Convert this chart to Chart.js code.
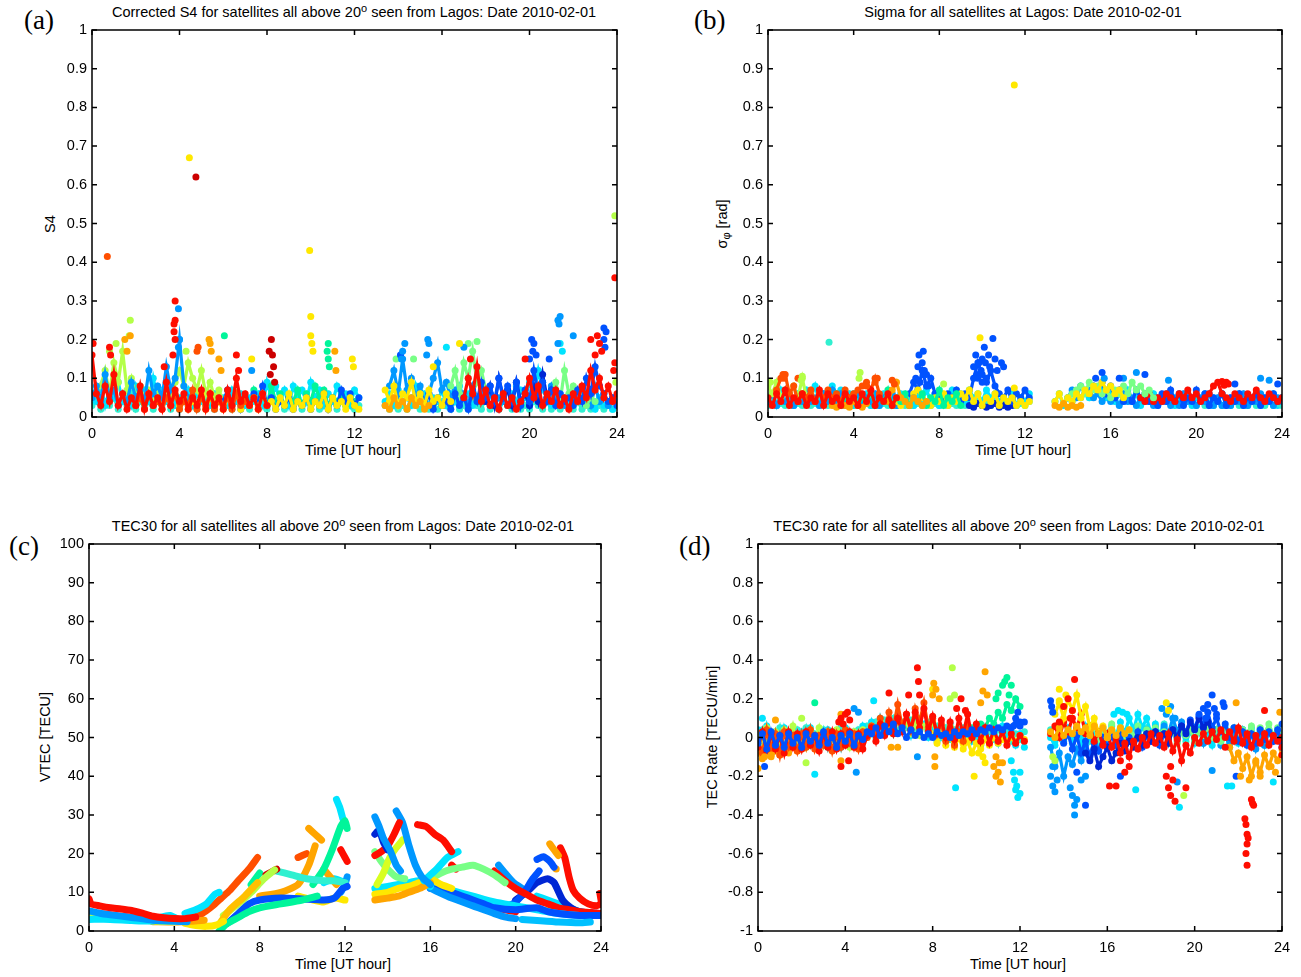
<!DOCTYPE html>
<html>
<head>
<meta charset="utf-8">
<script src="https://cdn.jsdelivr.net/npm/chart.js@4.4.1/dist/chart.umd.min.js"></script>
<style>
  body { margin: 0; background: #fff; width: 1301px; height: 977px; position: relative; overflow: hidden;
         font-family: "Liberation Sans", Arial, sans-serif; color: #000; }
  canvas { position: absolute; }
  .ttl { position: absolute; font-size: 14.5px; line-height: 16px; white-space: nowrap; transform: translateX(-50%); }
  .ttl sup { font-size: 11px; vertical-align: 5px; line-height: 0; }
  .xl { position: absolute; font-size: 14.5px; line-height: 16px; white-space: nowrap; transform: translateX(-50%); }
  .yl { position: absolute; font-size: 14.5px; line-height: 16px; white-space: nowrap; transform: translate(-50%, -50%) rotate(-90deg); }
  .yl sub { font-size: 11px; }
  .tag { position: absolute; font-family: "Liberation Serif", "Times New Roman", serif; font-size: 27px; line-height: 30px; }
</style>
</head>
<body>

<div class="tag" style="left:24px;top:5px">(a)</div>
<div class="tag" style="left:694px;top:5px">(b)</div>
<div class="tag" style="left:9px;top:531px">(c)</div>
<div class="tag" style="left:679px;top:531px">(d)</div>

<div class="ttl" style="left:354px;top:4px">Corrected S4 for satellites all above 20<sup>o</sup> seen from Lagos: Date 2010-02-01</div>
<div class="ttl" style="left:1023px;top:4px">Sigma for all satellites at Lagos: Date 2010-02-01</div>
<div class="ttl" style="left:343px;top:518px">TEC30 for all satellites all above 20<sup>o</sup> seen from Lagos: Date 2010-02-01</div>
<div class="ttl" style="left:1019px;top:518px">TEC30 rate for all satellites all above 20<sup>o</sup> seen from Lagos: Date 2010-02-01</div>

<div class="xl" style="left:353px;top:442px">Time [UT hour]</div>
<div class="xl" style="left:1023px;top:442px">Time [UT hour]</div>
<div class="xl" style="left:343px;top:956px">Time [UT hour]</div>
<div class="xl" style="left:1018px;top:956px">Time [UT hour]</div>

<div class="yl" style="left:50px;top:224px">S4</div>
<div class="yl" style="left:724px;top:224px">σ<sub>φ</sub> [rad]</div>
<div class="yl" style="left:45px;top:737px">VTEC [TECU]</div>
<div class="yl" style="left:712px;top:737px">TEC Rate [TECU/min]</div>

<canvas id="chartA" width="590" height="428" style="left:47px;top:14px"></canvas>
<canvas id="chartB" width="579" height="428" style="left:723px;top:14px"></canvas>
<canvas id="chartC" width="577" height="428" style="left:44px;top:528px"></canvas>
<canvas id="chartD" width="589" height="428" style="left:713px;top:528px"></canvas>

<script>
// -----------------------------
// TIME GRID (UT hour, 12 min steps)
// -----------------------------
const hours = [0,0.2,0.4,0.6,0.8,1,1.2,1.4,1.6,1.8,2,2.2,2.4,2.6,2.8,3,3.2,3.4,3.6,3.8,4,4.2,4.4,4.6,4.8,
  5,5.2,5.4,5.6,5.8,6,6.2,6.4,6.6,6.8,7,7.2,7.4,7.6,7.8,8,8.2,8.4,8.6,8.8,9,9.2,9.4,9.6,9.8,
  10,10.2,10.4,10.6,10.8,11,11.2,11.4,11.6,11.8,12,12.2,12.4,12.6,12.8,13,13.2,13.4,13.6,13.8,
  14,14.2,14.4,14.6,14.8,15,15.2,15.4,15.6,15.8,16,16.2,16.4,16.6,16.8,17,17.2,17.4,17.6,17.8,
  18,18.2,18.4,18.6,18.8,19,19.2,19.4,19.6,19.8,20,20.2,20.4,20.6,20.8,21,21.2,21.4,21.6,21.8,
  22,22.2,22.4,22.6,22.8,23,23.2,23.4,23.6,23.8,24];

// -----------------------------
// PANEL (a) : S4
// -----------------------------
const s4RedAm = [0.16,0.06,0.03,0.08,0.04,0.11,0.03,0.06,0.02,0.05,0.03,0.08,0.02,0.06,0.03,0.05,0.02,0.09,0.03,0.07,
  0.04,0.06,0.02,0.05,0.03,0.07,0.02,0.06,0.03,0.05,0.02,0.07,0.03,0.1,0.04,0.06,0.03,0.05,0.02,0.06,0.03];
const s4OrangeRedAm = [0.03,0.05,0.02,0.06,0.03,0.04,0.02,0.05,0.03,0.06,0.02,0.04,0.03,0.07,0.02,0.05,0.03,0.06,0.02,0.04,
  0.03,0.05,0.02,0.06,0.03,0.04];
const s4CyanAm = [0.06,0.04,0.08,0.03,0.07,0.05,0.09,0.04,0.06,0.03,0.08,0.05,0.07,0.04,0.1,0.05,0.07,0.04,0.06,0.03,
  0.05,0.04,0.07,0.03,0.06,0.04,0.05,0.03,0.06,0.04,0.05,0.03,0.07,0.04,0.06,0.03,0.05,0.04,0.06,0.03,
  0.09,0.05,0.08,0.04,0.07,0.03,0.08,0.05,0.07,0.04,0.09,0.05,0.07,0.03,0.06,0.04,0.08,0.05,0.06,0.03,0.07,0.05];
const s4LimeAm = [0.08,0.12,0.06,0.14,0.09,0.17,0.07,0.1,0.05,0.08,0.04,0.07,0.05,0.06,0.04,0.07,0.05,0.09,0.12,0.08,
  0.14,0.1,0.07,0.12,0.06,0.09,0.05,0.07,0.04];
const s4BlueAm = [0.04,0.07,0.03,0.06,0.02,0.05,0.03,0.06,0.04,0.08,0.03,0.05,0.02,0.04,0.03,0.05,0.02,0.04,0.03,0.05,
  0.02,0.04,0.03,0.06,0.02,0.05,0.03,0.07,0.04,0.06,0.03,0.05];
const s4SpringAm = [0.05,0.03,0.07,0.04,0.06,0.03,0.08,0.04,0.06,0.03,0.05,0.04,0.07,0.03,0.06,0.04,0.08,0.05,0.07,0.03,
  0.05,0.04,0.06,0.03,0.05,0.04];
const s4YellowAm = [0.03,0.05,0.02,0.04,0.03,0.06,0.02,0.05,0.03,0.04,0.02,0.05,0.03,0.06,0.02,0.04,0.03,0.05,0.02,0.06,
  0.03,0.04,0.02,0.05,0.03,0.06,0.02,0.04,0.03,0.05,0.02,0.04,0.03,0.06,0.02,0.05,0.03,0.04,0.02,0.05,0.03,0.02];
const s4SkyAm = [0.05,0.08,0.04,0.11,0.05,0.07,0.03,0.06,0.04,0.09,0.05,0.07,0.04,0.12,0.06,0.08,0.05,0.13,0.07,0.1,
  0.2,0.08,0.05];
const s4AquaAm = [0.03,0.05,0.02,0.04,0.03,0.05,0.02,0.04,0.03,0.06,0.02,0.04,0.03,0.05,0.02,0.04,0.03,0.05,0.02,0.04,
  0.02,0.05,0.03,0.04,0.02,0.05,0.03,0.04,0.02,0.05,0.03,0.04,0.02,0.05,0.03,0.04,0.02,0.05,0.03,0.04,
  0.02,0.04,0.03,0.05,0.02,0.04,0.03,0.05,0.02,0.04,0.03,0.05,0.02,0.04,0.03,0.05,0.02,0.04,0.03,0.05,0.02,0.03];

const s4YellowPm = [0.07,0.04,0.08,0.03,0.06,0.05,0.09,0.04,0.06,0.03,0.07,0.04,0.05,0.03,0.06,0.04];
const s4OrangePm = [0.03,0.02,0.05,0.03,0.04,0.02,0.05,0.03,0.04,0.02,0.03];
const s4CyanPm = [0.04,0.06,0.03,0.07,0.04,0.05,0.03,0.08,0.04,0.06,0.03,0.05,0.04,0.07,0.03,0.06,0.04,0.08,0.05,0.06,
  0.03,0.05,0.04,0.06,0.03,0.05,0.02,0.04,0.03,0.06,0.04,0.07,0.05,0.09,0.06,0.12,0.07,0.05,0.03,0.06,
  0.04,0.05,0.03,0.06,0.04,0.05,0.03,0.04,0.02,0.05,0.03,0.04,0.02,0.03];
const s4BluePm = [0.05,0.03,0.06,0.02,0.05,0.03,0.04,0.02,0.06,0.03,0.05,0.02,0.07,0.04,0.09,0.05,0.08,0.04,0.1,0.05,
  0.08,0.04,0.09,0.03,0.07,0.04,0.12,0.06,0.09,0.04,0.07,0.03,0.06,0.04,0.05,0.03,0.07,0.04,0.1,0.06,
  0.13,0.08,0.06,0.04,0.05,0.03];
const s4SkyPm = [0.08,0.12,0.06,0.15,0.07,0.1,0.05,0.08,0.04,0.06,0.1,0.14,0.07,0.09,0.05,0.07,0.04,0.06,0.03,0.08,
  0.05,0.07,0.04,0.06,0.03,0.05,0.04,0.07,0.05,0.08,0.04,0.06,0.03,0.07,0.04,0.09,0.05,0.08,0.04,0.06,
  0.03,0.05,0.04,0.07,0.05,0.06,0.03,0.08,0.04,0.06,0.03,0.05,0.04];
const s4RedPm = [0.05,0.1,0.06,0.13,0.04,0.07,0.03,0.05,0.02,0.06,0.03,0.05,0.02,0.04,0.06,0.1,0.05,0.08,0.03,0.06,
  0.04,0.07,0.03,0.05,0.02,0.06,0.04,0.08,0.05,0.12,0.07,0.1,0.05,0.08,0.04,0.06];
const s4GreenPm = [0.08,0.12,0.06,0.14,0.1,0.17,0.09,0.12,0.07];
const s4GreenLate = [0.06,0.09,0.04,0.12,0.06,0.08,0.04,0.07,0.03,0.05,0.04];
const s4NavyPm = [0.04,0.08,0.03,0.1,0.05,0.07,0.03,0.09,0.04,0.06,0.03,0.08,0.04,0.11,0.05,0.07];
const s4AquaPm = [0.03,0.02,0.04,0.02,0.03,0.02,0.05,0.03,0.02,0.04,0.02,0.03,0.02,0.04,0.03,0.02,0.04,0.02,0.03,0.02,
  0.04,0.03,0.02,0.05,0.02,0.03,0.02,0.04,0.03,0.02,0.04,0.02,0.03,0.02,0.04,0.03,0.02,0.04,0.02,0.03,
  0.02,0.04,0.03,0.02,0.04,0.02,0.03,0.02,0.04,0.03,0.02,0.03,0.02,0.03];

const s4DotsRed = [[0.05,0.19],[0.8,0.18],[0.85,0.16],[3.3,0.13],[3.8,0.3],[3.8,0.25],[3.75,0.24],[3.75,0.22],
  [3.8,0.2],[3.7,0.16],[6.6,0.16],[6.7,0.12],[17.3,0.15],[19.8,0.15],[22.8,0.2],[23.1,0.21],[23.2,0.19],
  [23.3,0.17],[23.0,0.16],[23.9,0.36],[23.9,0.14],[23.85,0.12]];
const s4DotsOrangeRed = [[0.7,0.415],[4.8,0.17],[4.85,0.18]];
const s4DotsOrange = [[1.5,0.2],[1.75,0.21],[1.6,0.17],[5.35,0.2],[5.4,0.19],[5.45,0.17],[5.8,0.15],[5.9,0.12],
  [11.1,0.17],[11.15,0.12]];
const s4DotsYellow = [[4.45,0.67],[9.95,0.43],[10.0,0.26],[10,0.21],[10.05,0.19],[10.1,0.17],[7.3,0.15],
  [11.9,0.15],[11.95,0.13],[16.8,0.19],[15.6,0.13]];
const s4DotsDarkRed = [[4.75,0.62],[8.2,0.2],[8.1,0.17],[8.25,0.16],[8.3,0.13],[8.15,0.11],[8.35,0.09]];
const s4DotsLime = [[1.75,0.25],[1.7,0.21],[1.1,0.19],[0.8,0.17],[4.3,0.17],[23.9,0.52],[23.95,0.09]];
const s4DotsSpring = [[6.05,0.21],[10.8,0.19],[10.75,0.17],[10.8,0.15],[10.85,0.13]];
const s4DotsSky = [[3.95,0.28],[4.0,0.2],[3.95,0.18],[7.3,0.12],[14.3,0.19],[14.2,0.17],[14.15,0.15],[15.35,0.2],
  [15.4,0.19],[15.3,0.16],[17.0,0.18],[21.3,0.25],[21.35,0.24],[21.4,0.26],[22.0,0.21],[21.3,0.19]];
const s4DotsBlue = [[20.1,0.2],[20.2,0.19],[20.15,0.17],[20.0,0.15],[20.3,0.16],[20.9,0.15],[23.4,0.23],
  [23.5,0.22],[23.4,0.2],[23.45,0.18],[14.1,0.16]];
const s4DotsGreen = [[17.2,0.19],[17.6,0.195],[14.7,0.15],[13.9,0.15]];
const s4DotsCyan = [[21.4,0.19],[21.5,0.17],[16.2,0.18]];

// -----------------------------
// PANEL (b) : SIGMA PHI
// -----------------------------
const sigRedAm = [0.05,0.03,0.06,0.04,0.07,0.03,0.05,0.04,0.06,0.03,0.05,0.04,0.07,0.03,0.06,0.04,0.05,0.03,0.06,0.04,
  0.05,0.03,0.06,0.04,0.07,0.03,0.05,0.04,0.06,0.03,0.05];
const sigOrangeRedAm = [0.07,0.1,0.11,0.06,0.08,0.04,0.06,0.05,0.07,0.04,0.06,0.05,0.07,0.05,0.06,0.04,0.07,0.05,0.06,0.07,
  0.08,0.09,0.07,0.1,0.06];
const sigCyanAm = [0.04,0.06,0.03,0.07,0.04,0.05,0.03,0.06,0.04,0.07,0.05,0.08,0.04,0.06,0.05,0.08,0.06,0.07,0.04,0.06,
  0.03,0.05,0.04,0.06,0.03,0.05,0.04,0.06,0.04,0.05,0.03,0.06,0.04,0.05,0.03,0.06,0.04,0.07,0.04,0.06,
  0.03,0.05,0.04,0.07,0.05,0.06,0.04,0.07,0.05,0.06,0.04,0.07,0.05,0.06,0.04,0.05,0.04,0.06,0.03,0.05,0.04,0.06];
const sigLimeAm = [0.08,0.06,0.09,0.05,0.07,0.06,0.08,0.05,0.1,0.05,0.06];
const sigGreenAm = [0.04,0.06,0.03,0.05,0.04,0.06,0.03,0.05,0.04,0.06,0.03,0.05,0.04,0.07,0.03,0.05,0.04,0.06,0.03,0.05,
  0.04,0.06,0.03,0.05,0.04,0.07,0.03,0.05,0.04,0.06,0.03];
const sigOrangeAm = [0.03,0.025,0.035,0.03,0.025,0.04,0.03,0.025,0.035];
const sigOrangeLate = [0.04,0.07,0.09,0.05,0.04,0.03,0.05,0.04,0.03,0.04];
const sigYellowAm = [0.04,0.03,0.05,0.03,0.06,0.07,0.05,0.04,0.03,0.05,0.04,0.06,0.03,0.05,0.04,0.06,0.05,0.07,0.04,0.06,
  0.03,0.05,0.04,0.06,0.03,0.05,0.04,0.05,0.03,0.04,0.03,0.04];
const sigBlueAm = [0.06,0.09,0.07,0.12,0.08,0.1,0.06,0.05,0.04,0.06,0.05,0.07,0.04,0.06,0.05,0.1,0.14,0.11,0.09,0.12,
  0.08,0.06,0.05,0.07,0.04,0.06,0.05,0.07,0.05];
const sigNavyAm = [0.03,0.025,0.035,0.03,0.025,0.03,0.035,0.025,0.03,0.025,0.03];
const sigSkyAm = [0.04,0.06,0.03,0.05,0.04,0.06,0.03,0.05,0.04,0.06,0.04,0.05,0.03,0.06,0.04,0.07,0.04,0.06,0.03,0.05,
  0.04,0.06,0.03,0.05,0.04,0.06,0.03,0.05,0.04,0.06,0.03];
const sigAquaAm = [0.03,0.04,0.03,0.035,0.03,0.04,0.03,0.035,0.03,0.04,0.03,0.035,0.03,0.04,0.03,0.035,0.03,0.04,0.03,0.035,
  0.03,0.04,0.03,0.035,0.03,0.04,0.03,0.035,0.03,0.04,0.03,0.035,0.03,0.04,0.03,0.035,0.03,0.04,0.03,0.035,
  0.03,0.04,0.03,0.035,0.03,0.04,0.03,0.035,0.03,0.04,0.03,0.035,0.03,0.04,0.03,0.035,0.03,0.04,0.03,0.035,0.03,0.04];

const sigYellowPm = [0.04,0.06,0.035,0.05,0.04,0.06,0.05,0.07,0.06,0.08,0.07,0.09,0.07,0.08,0.06,0.07,0.05];
const sigOrangePm = [0.03,0.025,0.035,0.025,0.03,0.025,0.03];
const sigCyanPm = [0.04,0.06,0.03,0.05,0.04,0.06,0.05,0.07,0.05,0.08,0.06,0.07,0.05,0.06,0.04,0.06,0.04,0.07,0.04,0.06,
  0.03,0.05,0.04,0.06,0.03,0.05,0.04,0.06,0.03,0.05,0.04,0.06,0.03,0.05,0.04,0.06,0.03,0.05,0.04,0.06,
  0.03,0.05,0.04,0.06,0.03,0.05,0.04,0.06,0.03,0.05,0.04,0.06,0.03,0.05];
const sigSkyPm = [0.05,0.07,0.05,0.08,0.06,0.07,0.05,0.06,0.04,0.06,0.04,0.05,0.03,0.06,0.04,0.05,0.03,0.05,0.04,0.06,
  0.03,0.05,0.04,0.06,0.03,0.05,0.03,0.06,0.04,0.05,0.03,0.05,0.04,0.06,0.03,0.05,0.03,0.04,0.03,0.05,
  0.04,0.06,0.03,0.05,0.04,0.06,0.04,0.05,0.03,0.05,0.04];
const sigBluePm = [0.06,0.08,0.07,0.09,0.06,0.08,0.05,0.07,0.04,0.06,0.04,0.07,0.05,0.06,0.04,0.05,0.03,0.06,0.04,0.07,
  0.04,0.06,0.03,0.05,0.04,0.07,0.04,0.06,0.03,0.05,0.04,0.06,0.03,0.05,0.04,0.06,0.03,0.05,0.04,0.06,
  0.03,0.05,0.04,0.06,0.04,0.05];
const sigRedPm = [0.05,0.04,0.06,0.04,0.05,0.04,0.06,0.05,0.04,0.06,0.05,0.07,0.05,0.06,0.04,0.05,0.06,0.08,0.09,0.06,
  0.05,0.04,0.06,0.05,0.04,0.06,0.05,0.07,0.05,0.04,0.06,0.05,0.04,0.05];
const sigGreenPm = [0.05,0.06,0.07,0.08,0.06,0.09,0.07,0.08,0.06,0.07,0.05,0.07,0.06,0.08,0.06,0.09,0.07,0.08,0.06,0.07,0.05];
const sigAquaPm = [0.03,0.04,0.03,0.035,0.03,0.04,0.03,0.035,0.03,0.04,0.03,0.035,0.03,0.04,0.03,0.035,0.03,0.04,0.03,0.035,0.03];

const sigDotsCyan = [[2.85,0.193]];
const sigDotsYellow = [[11.5,0.858],[9.9,0.205],[11.5,0.075]];
const sigDotsBlue = [[6.9,0.1],[7.0,0.13],[7.05,0.16],[7.25,0.17],[7.2,0.14],[7.3,0.12],[7.1,0.09],[7.4,0.11],
  [7.5,0.08],[9.6,0.13],[9.7,0.16],[9.75,0.11],[9.85,0.14],[9.95,0.12],[10.0,0.15],[10.1,0.18],[10.15,0.14],
  [10.2,0.1],[10.3,0.16],[10.35,0.13],[10.5,0.203],[10.6,0.15],[10.7,0.12],[10.9,0.14],[11.0,0.13],[10.0,0.09],
  [9.8,0.1],[15.6,0.115],[16.4,0.1],[17.6,0.11],[21.8,0.085],[23.8,0.085],[15.3,0.1]];
const sigDotsLime = [[4.3,0.115],[4.25,0.1],[1.6,0.105],[1.55,0.095],[0.1,0.09],[8.2,0.085]];
const sigDotsOrange = [[0.7,0.11],[0.75,0.1],[1.4,0.1],[5.8,0.095],[5.9,0.085],[5.1,0.1],[5.0,0.09],[4.6,0.08]];
const sigDotsSky = [[17.2,0.115],[18.7,0.095],[23.0,0.1],[23.4,0.095],[16.6,0.1],[15.7,0.1]];
const sigDotsRed = [[21.2,0.092],[21.4,0.09],[21.5,0.085],[21.3,0.082]];

// -----------------------------
// PANEL (c) : VTEC TRACKS  [hour, TECU]
// -----------------------------
const tecRedEarly = [[0,8.3],[0.1,7],[0.5,6.5],[1,6],[1.5,5.7],[2,5.3],[2.5,4.6],[3,3.8],[3.5,3.4],[4,3.2],[4.5,3.2],[5,3.6]];
const tecSkyEarly = [[0,5.2],[0.5,4.6],[1,4.2],[2,3.5],[3,2.8],[4,2.5],[4.6,2.4]];
const tecCyanEarly = [[0,3],[1,3],[2,2.7],[3,2.6],[3.4,3.6],[3.8,4],[4.2,3]];
const tecLimeEarly = [[0,4.2],[1,3.6],[2,3.1],[3,2.6],[4,2.4]];
const tecBlueEarly = [[0,4.6],[1,4.1],[2,3.4],[2.8,2.9]];
const tecOrangeEarly = [[3,2.4],[4,2.3],[4.8,2.5],[5.4,2.8]];
const tecYellowLow = [[4.5,2],[5,1.4],[5.5,1.2],[6,1.6],[6.3,2.5]];
const tecGoldRise = [[6.2,2.5],[6.6,5.5],[7.3,9],[7.9,12.5]];
const tecCyanRise = [[4.5,4.5],[5,5.5],[5.5,7],[5.9,9.5],[6.1,10]];
const tecOrangeRedRise = [[4.8,3.5],[5.3,4.5],[5.8,6.5],[6.2,8.5],[6.6,10.5],[7,13],[7.5,16],[7.9,19]];
const tecSpringRise = [[6.1,0],[6.5,2],[7,3.5],[7.5,5],[8,6],[9,7],[10,8],[10.7,9]];
const tecBlueMid = [[6.5,2],[7,4.5],[7.5,7],[8,8],[9,8.5],[10,8.3],[11,8],[11.5,8.5],[11.9,11],[12.1,11.5]];
const tecLimeRise = [[6.3,4],[7,7],[7.6,10],[8.2,13.5],[8.7,15.8]];
const tecRedShort = [[8.3,14.5],[8.8,16]];
const tecAquaMid = [[8.8,15.5],[9.5,14.5],[10.2,13.5],[11,13],[11.5,13],[12,12.5]];
const tecSpringShort = [[7.6,12],[8,15]];
const tecOrangeMid = [[8,9],[9,10],[9.8,12],[10.3,17],[10.6,22]];
const tecOrangeTop = [[10.3,26.5],[10.6,25],[10.9,23.5]];
const tecOrangeRedMid = [[9.8,19],[10.2,20]];
const tecSpringTop = [[10.5,12],[11,16],[11.4,21],[11.8,27],[12,28.5],[12.1,26.5]];
const tecCyanTop = [[11.6,34],[11.75,32],[11.9,29]];
const tecRedNoon = [[11.8,21],[12,19],[12.1,18]];
const tecOrangeNoon = [[11,16],[11.3,14],[11.6,12]];
const tecYellowNoon = [[9.8,9],[10.5,8],[11,7.5],[11.5,8.5],[12,8]];
const tecSkyNoon = [[11.8,10],[12,12],[12.1,14]];
const tecCyanNoon = [[11,12.5],[11.5,13.5],[12,12.5]];

const tecBluePm1 = [[13.4,29.5],[13.6,27],[13.8,24],[14.1,21],[14.4,17],[14.6,15.5]];
const tecNavyPm1 = [[13.4,25],[13.6,26],[13.8,23],[14.0,21]];
const tecRedPm1 = [[13.4,19.5],[13.7,20.5],[14,22],[14.3,25],[14.55,28]];
const tecSkyPm1 = [[14.4,31],[14.7,28],[15,22],[15.3,17],[15.6,14],[16,12]];
const tecLimePm1 = [[13.5,12],[13.8,15],[14.1,19],[14.4,21.5],[14.7,23.5]];
const tecGreenPm1 = [[13.4,20.5],[13.7,18],[14,16],[14.4,14],[14.8,13.5]];
const tecRedPm2 = [[15.4,27.5],[15.8,27],[16.2,25],[16.6,23.5],[17,20.5]];
const tecCyanPm2 = [[15.7,13],[16.3,16],[16.8,19],[17.3,20.5]];
const tecOrangePm = [[13.4,8],[14,8.5],[14.5,9],[15,10],[15.5,11],[16,12.5]];
const tecYellowPm = [[13.4,9.5],[14,10],[14.5,11],[15,11.5],[15.5,12.5],[16,13.5],[16.5,12],[17,11]];
const tecCyanPm1 = [[13.4,11],[14,11.5],[14.5,12],[15,12.5],[15.5,13],[16,11.5]];
const tecGreenHump = [[15.5,13],[16,13.5],[16.5,15],[17,16],[17.5,16.5],[18,17],[18.5,16],[19,14.5],[19.5,12.5]];
const tecSkyDesc = [[16,11],[17,8.5],[18,6.5],[19,4.5],[19.6,3.5],[20,3.2]];
const tecSkyLow = [[20.3,3],[21,2.7],[22,2.3],[23,2.1],[23.5,2.3]];
const tecBlueDesc = [[16,11],[17,10],[18,8],[18.5,7],[19,6],[20,5.5],[21,6],[21.5,5],[22,4.5],[23,4],[24,4]];
const tecCyanDesc = [[16,12],[17,10.5],[18,9],[19,7.5],[20,6.5],[21,5.5],[22,4.5],[23,4],[24,4]];
const tecRedDesc = [[19,15.5],[19.5,13],[20,11],[20.5,9.5],[21,8],[21.5,7],[22,6],[22.5,5.5],[23,5],[23.5,4.8],[24,4.5]];
const tecRedLow = [[19,6],[19.5,5.5],[20,5]];
const tecRedShort2 = [[17,17],[17.2,16]];
const tecBlueRise = [[19.5,6],[20,7.5],[20.4,10],[20.8,13.5],[21.1,15.5]];
const tecSkyPm3 = [[19.2,17],[19.5,15],[19.9,12.5],[20.3,11]];
const tecNavyHump = [[20,8],[20.5,10],[21,12.5],[21.5,13.5],[21.8,12.5],[22.2,8],[22.6,6],[23,5],[24,4.5]];
const tecBluePm3 = [[21,18.5],[21.3,19.2],[21.6,18],[21.8,16.5]];
const tecOrangePm3 = [[21.6,22.5],[21.8,21],[22,19.5]];
const tecOrangeDot = [[21.9,16]];
const tecRedPm4 = [[22.1,21.5],[22.3,19],[22.5,14],[22.7,10.5],[23,8.5],[23.4,7],[23.8,6.5],[24,7]];
const tecRedEnd = [[23.95,9.7],[24,8]];
const tecCyanPm4 = [[21,9],[21.5,8],[22,7],[22.5,6],[23,5],[24,4]];
const tecGreenPm4 = [[21.5,5.5],[22,5],[23,4.5],[24,4.2]];

// -----------------------------
// PANEL (d) : TEC RATE
// -----------------------------
const rateRedAm = [-0.05,0.03,-0.07,0.02,-0.06,0.01,-0.08,0.03,-0.05,0.02,-0.06,0.03,-0.04,0.01,-0.07,0.02,-0.05,0.03,-0.06,0.02,
  -0.04,0.03,-0.05,0.02,-0.06,0.01,0.05,-0.02,0.07,0.01,0.09,0.02,0.1,0.03,0.12,0.04,0.13,0.05,0.15,0.03,
  0.11,0.02,0.09,0.0,0.08,-0.01,0.1,0.02,0.12,0.0,0.07,-0.02,0.05,-0.03,0.04,-0.02,0.03,-0.04,0.02,-0.03,0.01,-0.02];
const rateOrangeRedAm = [-0.02,-0.08,0.04,-0.06,0.02,-0.09,0.03,-0.05,0.01,-0.07,0.02,-0.05,0.04,-0.06,0.01,-0.04,0.03,-0.07,0.02,-0.05,
  0.04,-0.03,0.02,-0.06,0.03,0.0,0.06,0.02,0.1,0.04,0.13,0.05,0.17,0.06,0.12,0.04,0.15,0.08,0.18,0.05,
  0.1,0.02,0.07,-0.02,0.05,-0.04,0.03,-0.02,0.06,0.0,0.04];
const rateCyanAm = [0.04,-0.03,0.06,-0.02,0.03,-0.05,0.05,-0.01,0.04,-0.04,0.03,-0.02,0.05,-0.03,0.02,-0.04,0.04,-0.01,0.03,-0.05,
  0.05,-0.02,0.03,-0.03,0.06,0.01,0.08,0.0,0.1,0.03,0.09,0.02,0.11,0.04,0.08,0.01,0.1,0.03,0.07,0.0,
  0.06,-0.02,0.05,0.0,0.07,-0.03,0.04,-0.01,0.06,-0.02,0.03,-0.04,0.05,-0.02,0.04,-0.03,0.06,-0.01,0.03,-0.04,0.02,-0.05];
const rateBlueAm = [-0.03,0.02,-0.06,0.03,-0.04,0.01,-0.05,0.02,-0.03,0.0,-0.05,0.02,-0.02,0.01,-0.04,0.03,-0.03,0.0,-0.05,0.01,
  -0.02,0.02,-0.04,0.01,-0.01,0.03,0.02,0.05,0.01,0.06,0.03,0.07,0.02,0.05,0.0,0.04,0.01,0.03,0.0,0.02,
  0.0,0.03,0.01,0.02,0.0,0.03,0.01,0.03,0.02,0.04,0.02,0.04,0.03,0.05,0.03,0.05,0.04,0.06,0.05,0.07,0.06,0.08];
const rateLimeAm = [0.02,-0.04,0.05,-0.03,0.03,-0.06,0.04,-0.02,0.06,-0.03,0.02,-0.05,0.04,-0.02,0.05,-0.04,0.03,-0.01,0.04,-0.03,
  0.02,-0.05,0.03,-0.02,0.04,0.0,0.06,0.01,0.08,0.03,0.07,0.02,0.09,0.04,0.08,0.02,0.07,0.01,0.06,0.03,
  0.08,0.02,0.05,0.0,0.06,0.02];
const rateYellowAm = [0.02,-0.03,0.03,-0.04,0.01,-0.05,0.0,-0.06,-0.02,-0.08,-0.03,-0.06,-0.01,-0.04,0.0,-0.03,-0.01,-0.02,0.0,-0.02,
  0.01,-0.01];
const rateOrangeAm = [-0.08,-0.11,-0.06,-0.1,-0.07,-0.09,-0.06,-0.08,-0.05,-0.07,-0.06];
const rateSpringAm = [0.02,0.05,0.03,0.07,0.05,0.1,0.07,0.13,0.1,0.17,0.14,0.2,0.16];
const rateAquaAm = [-0.01,0.04,-0.04,0.03,-0.02,0.05,-0.05,0.02,-0.03,0.04,-0.01,0.05,-0.04,0.02,-0.02,0.04,-0.05,0.03,-0.01,0.05,
  -0.03,0.02,-0.04,0.04,0.0,0.06,0.02,0.08,0.04,0.09,0.05,0.1,0.03,0.08,0.05,0.09,0.04,0.1,0.06,0.08,
  0.02,0.06,0.0,0.05,-0.01,0.04,0.01,0.05,0.0,0.03,-0.02,0.04,0.0,0.03,-0.01,0.04,0.01,0.03,-0.02,0.02,-0.01,0.03];

const rateGoldPm = [0.03,0.0,0.05,0.01,0.04,0.02,0.06,0.03,0.05,0.01,0.06,0.02,0.05,0.0,0.04,0.01,0.05,0.02,0.04];
const rateCyanPm = [0.0,-0.04,0.03,-0.02,0.05,-0.01,0.04,-0.03,0.06,0.0,0.05,-0.02,0.04,-0.03,0.06,0.01,0.08,0.02,0.1,0.04,
  0.12,0.05,0.1,0.02,0.07,-0.01,0.05,-0.03,0.04,-0.02,0.06,0.0,0.04,-0.03,0.05,-0.01,0.03,-0.04,0.04,-0.02,
  0.05,0.0,0.03,-0.03,0.04,-0.01,0.05,-0.02,0.03,-0.04,0.04,-0.01,0.03,-0.02];
const rateBluePm = [-0.03,0.02,-0.06,0.01,-0.08,-0.02,-0.1,-0.03,-0.07,0.0,-0.05,0.01,-0.04,0.02,-0.06,0.0,-0.03,0.03,-0.05,0.01,
  -0.02,0.03,-0.04,0.02,-0.01,0.04,0.01,0.06,0.03,0.09,0.05,0.11,0.06,0.13,0.05,0.1,0.03,0.07,0.0,0.05,
  -0.02,0.03,-0.04,0.02,-0.03,0.04,-0.01,0.03,-0.02,0.04,-0.03];
const rateSkyPm = [-0.05,-0.15,-0.08,-0.2,-0.1,-0.14,-0.06,-0.12,-0.04,-0.09,-0.02,-0.07,0.0,-0.05,0.02,-0.04,0.01,-0.06,0.02,-0.03,
  0.03,-0.02,0.04,-0.01,0.05,0.0,0.06,0.02,0.1,0.03,0.08,0.01,0.05,-0.02,0.04,-0.03,0.06,0.0,0.03,-0.04,
  0.02,-0.05,0.03,-0.02,0.04,-0.03,0.02,-0.06,0.01,-0.04,0.03,-0.02,0.02,-0.03];
const rateRedPm = [0.02,0.06,0.0,0.08,0.03,0.1,0.05,0.12,0.02,0.06,-0.02,0.03,-0.04,0.02,-0.05,0.0,-0.08,-0.03,-0.1,-0.02,
  -0.06,0.0,-0.04,0.02,-0.03,0.01,-0.05,0.02,-0.07,-0.01,-0.12,-0.04,-0.08,0.0,-0.03,0.02,-0.02,0.03,-0.01,0.04,
  0.0,0.03,-0.02,0.05,-0.03,0.02,-0.05,0.01,-0.03,0.02,-0.04,0.01,-0.02,0.0];
const rateGreenPm = [0.05,0.01,0.06,-0.01,0.05,0.02,0.07,0.0,0.05,-0.02,0.04,0.01,0.06,-0.01,0.04,0.02,0.05,-0.02,0.03,0.0,
  0.04,-0.03,0.03,0.01,0.04,-0.02,0.03,0.01,0.05,0.0,0.04,-0.02,0.03,0.01,0.05,-0.01,0.04,0.02,0.06,0.0,
  0.05,0.02,0.07,0.01,0.05,0.02];
const rateYellowPm = [0.12,0.18,0.1,0.2,0.14,0.22,0.1,0.16,0.05,0.1,0.02,0.06,0.0,0.04];
const rateOrangePm = [-0.05,-0.12,-0.08,-0.16,-0.1,-0.2,-0.12,-0.18,-0.09,-0.15,-0.08,-0.12,-0.06];
const rateNavyPm = [-0.08,-0.12,-0.06,-0.15,-0.1,-0.05,-0.12,-0.08,-0.03,-0.07,-0.02,-0.05,0.0,-0.04,0.02,-0.02,0.03,-0.01,0.02,-0.03,
  0.04,0.0,0.06,0.02,0.08,0.04,0.1,0.05,0.08,0.03];
const rateAquaPm = [0.04,-0.02,0.05,-0.01,0.03,-0.03,0.04,0.0,0.05,-0.02,0.03,-0.04,0.02,-0.03,0.04,-0.02,0.03,-0.04,0.02,-0.03,
  0.04,-0.01,0.05,0.0,0.06,0.02,0.07,0.01,0.05,0.0,0.04,-0.02,0.03,-0.01,0.04,-0.03,0.02,-0.02,0.04,-0.01,
  0.03,-0.03,0.02,-0.02,0.04,-0.01,0.03,-0.02,0.04,0.0,0.03,-0.01,0.02,-0.02];

const rateDotsRed = [[3.7,0.08],[3.8,0.1],[3.9,0.07],[4.0,0.12],[4.1,0.13],[4.2,0.09],[3.8,-0.15],[4.15,-0.12],[6.0,0.23],
  [6.9,0.22],[7.3,0.36],[7.35,0.29],[7.4,0.22],[9.1,0.15],[9.3,0.2],[9.5,0.14],[14.5,0.3],[14.2,0.2],[14.0,0.16],
  [14.3,0.1],[13.8,0.08],[14.4,0.14],[16.1,-0.25],[16.4,-0.25],[16.8,-0.18],[17.0,-0.15],[16.6,-0.12],[18.7,-0.2],
  [18.8,-0.26],[18.9,-0.3],[19.0,-0.22],[19.1,-0.33],[18.9,-0.15],[19.6,-0.26],[22.3,-0.42],[22.35,-0.45],[22.4,-0.5],
  [22.45,-0.52],[22.4,-0.55],[22.35,-0.6],[22.4,-0.66],[22.6,-0.32],[22.65,-0.34],[22.7,-0.35],[23.2,0.14],[24,-0.05],
  [24,-0.09],[21.4,-0.05]];
const rateDotsOrange = [[0.0,-0.16],[0.3,-0.1],[0.6,-0.09],[0.8,0.09],[3.8,0.12],[3.8,-0.12],[6.1,-0.05],[6.4,-0.05],
  [8.1,-0.1],[8.1,-0.15],[8.0,0.22],[8.05,0.28],[8.15,0.25],[8.3,0.2],[10.4,0.34],[10.3,0.24],[10.5,0.22],[10.2,0.18],
  [10.8,-0.15],[10.9,-0.2],[11.0,-0.18],[11.1,-0.23],[11.2,-0.13],[10.9,-0.1],[11.05,-0.13],[21.9,0.18],[22.1,-0.2],
  [22.5,-0.22],[23.0,-0.2],[23.5,-0.15],[23.9,0.13],[23.7,-0.18],[22.8,-0.13]];
const rateDotsYellow = [[8.0,0.25],[9.9,-0.2],[10.3,-0.1],[10.1,-0.08],[10.4,-0.13],[13.8,0.25],[14.1,0.22],[18.7,0.18],
  [18.8,0.14],[13.8,0.19]];
const rateDotsLime = [[8.9,0.36],[8.8,0.2],[9.0,0.22],[2.0,0.1],[2.2,-0.13],[13.5,-0.1],[13.6,-0.12],[19.5,-0.3]];
const rateDotsSpring = [[2.6,0.18],[11.4,0.31],[11.3,0.29],[11.2,0.27],[11.6,0.27],[11.5,0.22],[10.9,0.2],[11.0,0.23]];
const rateDotsCyan = [[2.6,-0.19],[0.2,0.1],[9.05,-0.26],[5.3,0.19],[11.7,-0.18],[11.75,-0.22],[11.8,-0.27],[11.9,-0.31],
  [11.85,-0.25],[12.0,-0.29],[12.0,-0.18],[11.6,-0.12],[16.3,0.12],[16.5,0.14],[16.7,0.13],[16.9,0.12],[19.3,-0.36],
  [21.5,-0.25],[21.7,-0.25],[23.6,-0.23],[17.3,-0.27]];
const rateDotsSky = [[4.5,-0.18],[4.4,0.15],[4.6,0.13],[7.3,-0.1],[13.4,-0.2],[13.5,-0.25],[13.6,-0.28],[13.7,-0.22],
  [13.5,-0.15],[14.4,-0.3],[14.5,-0.35],[14.6,-0.32],[14.3,-0.26],[14.8,-0.22],[15.0,-0.2],[14.5,-0.4],[18.5,0.15],
  [18.7,0.12],[18.9,0.16],[19.1,0.1],[19.2,-0.23],[20.8,-0.17]];
const rateDotsBlue = [[0.3,-0.15],[11.8,0.1],[11.9,0.13],[12.0,0.08],[11.7,0.06],[13.4,0.19],[13.45,0.16],[13.5,0.13],
  [15.0,-0.35],[14.6,-0.18],[16.6,-0.2],[20.2,0.12],[20.4,0.15],[20.6,0.17],[20.8,0.22],[20.9,0.15],[21.0,0.12],
  [20.5,0.1],[21.3,0.18],[21.35,0.16],[21.9,-0.2],[24,0.07],[24,-0.05]];


// -----------------------------
// COLOURS (jet-like)
// -----------------------------
const RED = "#ff0d00", DARKRED = "#cc0000", ORANGERED = "#ff4f00", ORANGE = "#ffa500", YELLOW = "#ffe800";
const LIME = "#b4ff48", GREEN = "#78ff86", SPRING = "#00f59a", AQUA = "#30f0d0", CYAN = "#00e4ff";
const SKY = "#0098ff", BLUE = "#0052ff", NAVY = "#0026d4";

const FONT = { family: "'Liberation Sans', Arial, sans-serif", size: 14.5 };


// -----------------------------
// DATASET HELPERS
// -----------------------------
function band(start, vals, color) {
    const i0 = hours.indexOf(start);
    const pts = [];
    vals.forEach((v, i) => {
        if (hours[i0 + i] !== undefined) pts.push({ x: hours[i0 + i], y: v });
    });
    return {
        data: pts,
        borderColor: color,
        backgroundColor: color,
        borderWidth: 3.2,
        pointRadius: 3.5,
        pointBorderWidth: 0,
        tension: 0
    };
}

function dots(pairs, color) {
    return {
        data: pairs.map(p => ({ x: p[0], y: p[1] })),
        showLine: false,
        backgroundColor: color,
        borderColor: color,
        pointRadius: 3.5,
        pointBorderWidth: 0
    };
}

function track(pairs, color) {
    return {
        data: pairs.map(p => ({ x: p[0], y: p[1] })),
        borderColor: color,
        backgroundColor: color,
        borderWidth: 7,
        borderCapStyle: "round",
        borderJoinStyle: "round",
        pointRadius: 0,
        tension: 0.2
    };
}

function tickLabel(v) {
    return String(Number(v.toFixed(2)));
}


// -----------------------------
// MATLAB STYLE BOX + INWARD TICKS
// -----------------------------
const boxPlugin = {
    id: "box",
    afterDraw(chart) {
        const { ctx, chartArea: a, scales: { x, y } } = chart;
        ctx.save();
        ctx.strokeStyle = "#000";
        ctx.lineWidth = 1.5;
        ctx.strokeRect(a.left, a.top, a.right - a.left, a.bottom - a.top);
        ctx.beginPath();
        x.ticks.forEach(t => {
            const px = x.getPixelForValue(t.value);
            ctx.moveTo(px, a.bottom); ctx.lineTo(px, a.bottom - 5);
            ctx.moveTo(px, a.top); ctx.lineTo(px, a.top + 5);
        });
        y.ticks.forEach(t => {
            const py = y.getPixelForValue(t.value);
            ctx.moveTo(a.left, py); ctx.lineTo(a.left + 5, py);
            ctx.moveTo(a.right, py); ctx.lineTo(a.right - 5, py);
        });
        ctx.stroke();
        ctx.restore();
    }
};

function makeChart(id, datasets, ymin, ymax, ystep) {
    return new Chart(document.getElementById(id).getContext("2d"), {
        type: "line",
        data: { datasets: datasets },
        options: {
            animation: false,
            responsive: false,
            events: [],
            layout: { padding: { top: 16, right: 20, left: 0, bottom: 0 } },
            plugins: { legend: { display: false }, tooltip: { enabled: false } },
            scales: {
                x: {
                    type: "linear", min: 0, max: 24,
                    ticks: { stepSize: 4, color: "#000", font: FONT, padding: 8, maxRotation: 0, callback: tickLabel },
                    grid: { display: false, drawTicks: false }, border: { display: false },
                    afterFit: s => { s.height = 25; }
                },
                y: {
                    type: "linear", min: ymin, max: ymax,
                    ticks: { stepSize: ystep, color: "#000", font: FONT, padding: 5, callback: tickLabel },
                    grid: { display: false, drawTicks: false }, border: { display: false },
                    afterFit: s => { s.width = 45; }
                }
            }
        },
        plugins: [boxPlugin]
    });
}


// -----------------------------
// INIT CHARTS
// -----------------------------
window.onload = function () {

    // (a) S4
    makeChart("chartA", [
        dots(s4DotsYellow, YELLOW), dots(s4DotsDarkRed, DARKRED), dots(s4DotsOrangeRed, ORANGERED),
        dots(s4DotsRed, RED), dots(s4DotsOrange, ORANGE), dots(s4DotsLime, LIME), dots(s4DotsSpring, SPRING),
        dots(s4DotsSky, SKY), dots(s4DotsBlue, BLUE), dots(s4DotsGreen, GREEN), dots(s4DotsCyan, CYAN),
        band(0, s4RedAm, RED), band(2, s4OrangeRedAm, ORANGERED), band(4, s4YellowAm, YELLOW),
        band(0, s4SkyAm, SKY), band(6, s4BlueAm, BLUE), band(0.4, s4LimeAm, LIME),
        band(7, s4SpringAm, SPRING), band(0, s4CyanAm, CYAN), band(0, s4AquaAm, AQUA),
        band(13.4, s4OrangePm, ORANGE), band(13.4, s4YellowPm, YELLOW), band(17, s4RedPm, RED),
        band(15, s4BluePm, BLUE), band(18, s4NavyPm, NAVY), band(16.4, s4GreenPm, GREEN),
        band(21, s4GreenLate, GREEN), band(13.6, s4SkyPm, SKY), band(13.4, s4CyanPm, CYAN),
        band(13.4, s4AquaPm, AQUA)
    ], 0, 1, 0.1);

    // (b) sigma phi
    makeChart("chartB", [
        dots(sigDotsYellow, YELLOW), dots(sigDotsCyan, AQUA), dots(sigDotsBlue, BLUE), dots(sigDotsLime, LIME),
        dots(sigDotsOrange, ORANGERED), dots(sigDotsSky, SKY), dots(sigDotsRed, RED),
        band(0, sigRedAm, RED), band(0.4, sigOrangeRedAm, ORANGERED), band(3, sigOrangeAm, ORANGE),
        band(5.6, sigOrangeLate, ORANGE), band(0, sigLimeAm, LIME), band(3, sigGreenAm, SPRING),
        band(6, sigYellowAm, YELLOW), band(6.6, sigBlueAm, BLUE), band(9.4, sigNavyAm, NAVY),
        band(0, sigSkyAm, SKY), band(0, sigCyanAm, CYAN), band(0, sigAquaAm, AQUA),
        band(13.4, sigOrangePm, ORANGE), band(13.4, sigYellowPm, YELLOW), band(14, sigGreenPm, GREEN),
        band(17.4, sigRedPm, RED), band(15, sigBluePm, BLUE), band(14, sigSkyPm, SKY),
        band(20, sigAquaPm, AQUA), band(13.4, sigCyanPm, CYAN)
    ], 0, 1, 0.1);

    // (c) VTEC
    makeChart("chartC", [
        track(tecRedEarly, RED), track(tecSkyEarly, SKY), track(tecCyanEarly, CYAN), track(tecLimeEarly, LIME),
        track(tecBlueEarly, BLUE), track(tecOrangeEarly, ORANGE), track(tecYellowLow, YELLOW),
        track(tecGoldRise, "#ffc000"), track(tecCyanRise, CYAN), track(tecOrangeRedRise, ORANGERED),
        track(tecSpringRise, SPRING), track(tecBlueMid, BLUE), track(tecLimeRise, LIME), track(tecRedShort, DARKRED),
        track(tecAquaMid, AQUA), track(tecSpringShort, SPRING), track(tecOrangeMid, ORANGE),
        track(tecOrangeTop, ORANGE), track(tecOrangeRedMid, ORANGERED), track(tecSpringTop, SPRING),
        track(tecCyanTop, CYAN), track(tecRedNoon, RED), track(tecOrangeNoon, ORANGE), track(tecYellowNoon, YELLOW),
        track(tecSkyNoon, SKY), track(tecCyanNoon, CYAN),
        track(tecBluePm1, SKY), track(tecNavyPm1, NAVY), track(tecRedPm1, RED), track(tecSkyPm1, SKY),
        track(tecLimePm1, "#d8ff20"), track(tecGreenPm1, GREEN), track(tecRedPm2, RED), track(tecCyanPm2, CYAN),
        track(tecOrangePm, ORANGE), track(tecYellowPm, YELLOW), track(tecCyanPm1, CYAN), track(tecGreenHump, GREEN),
        track(tecSkyDesc, SKY), track(tecSkyLow, "#00c0ff"), track(tecBlueDesc, BLUE), track(tecCyanDesc, CYAN),
        track(tecRedDesc, RED), track(tecRedLow, RED), track(tecRedShort2, RED), track(tecBlueRise, BLUE),
        track(tecSkyPm3, SKY), track(tecNavyHump, NAVY), track(tecBluePm3, BLUE), track(tecOrangePm3, ORANGE),
        dots(tecOrangeDot, ORANGE), track(tecRedPm4, RED), track(tecRedEnd, RED), track(tecCyanPm4, CYAN),
        track(tecGreenPm4, GREEN)
    ], 0, 100, 10);

    // (d) TEC rate
    makeChart("chartD", [
        dots(rateDotsRed, RED), dots(rateDotsOrange, ORANGE), dots(rateDotsYellow, YELLOW), dots(rateDotsLime, LIME),
        dots(rateDotsSpring, SPRING), dots(rateDotsCyan, CYAN), dots(rateDotsSky, SKY), dots(rateDotsBlue, BLUE),
        band(0, rateBlueAm, BLUE), band(0, rateRedAm, RED), band(0, rateOrangeRedAm, ORANGERED),
        band(0, rateLimeAm, LIME), band(0, rateOrangeAm, ORANGE), band(8, rateYellowAm, YELLOW),
        band(9.6, rateSpringAm, SPRING), band(0, rateCyanAm, CYAN), band(0, rateAquaAm, AQUA),
        band(13.4, rateGoldPm, "#ffb000"), band(13.6, rateYellowPm, YELLOW), band(21.6, rateOrangePm, ORANGE),
        band(13.4, rateRedPm, RED), band(15, rateNavyPm, NAVY), band(14, rateBluePm, BLUE),
        band(15, rateGreenPm, GREEN), band(13.4, rateSkyPm, SKY), band(13.4, rateCyanPm, CYAN),
        band(13.4, rateAquaPm, AQUA)
    ], -1, 1, 0.2);
};
</script>
</body>
</html>
